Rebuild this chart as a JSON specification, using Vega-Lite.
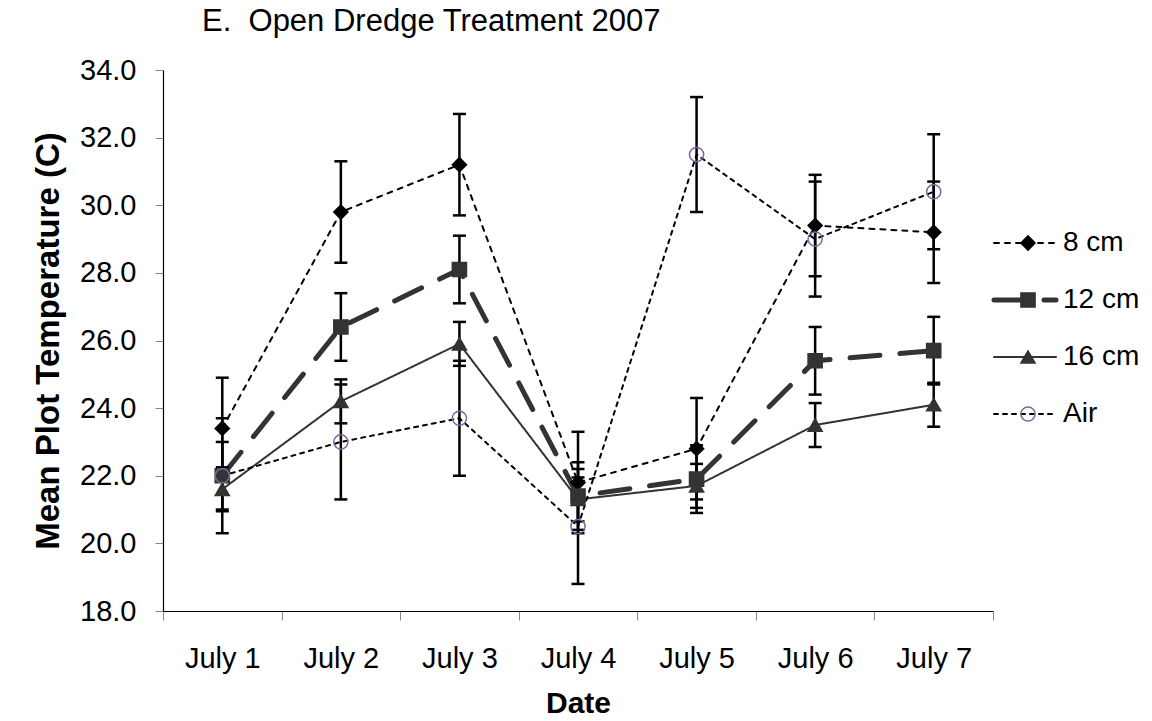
{
  "$schema": "https://vega.github.io/schema/vega-lite/v6.json",
  "width": 830,
  "height": 541,
  "autosize": {"type": "none"},
  "padding": {"left": 163, "top": 70, "right": 159, "bottom": 110},
  "background": "white",
  "config": {
    "font": "Liberation Sans",
    "view": {"stroke": null}
  },
  "title": {
    "text": "E.\u00a0 Open Dredge Treatment 2007",
    "anchor": "start",
    "frame": "group",
    "orient": "top",
    "baseline": "alphabetic",
    "offset": -6,
    "dx": 39,
    "fontSize": 31,
    "fontWeight": "normal",
    "font": "Liberation Sans",
    "color": "black"
  },
  "data": {
    "values": [
      {"date": "July 1", "series": "8 cm", "value": 23.4, "lo": 21.9, "hi": 24.9},
      {"date": "July 2", "series": "8 cm", "value": 29.8, "lo": 28.3, "hi": 31.3},
      {"date": "July 3", "series": "8 cm", "value": 31.2, "lo": 29.7, "hi": 32.7},
      {"date": "July 4", "series": "8 cm", "value": 21.8, "lo": 20.3, "hi": 23.3},
      {"date": "July 5", "series": "8 cm", "value": 22.8, "lo": 21.3, "hi": 24.3},
      {"date": "July 6", "series": "8 cm", "value": 29.4, "lo": 27.9, "hi": 30.9},
      {"date": "July 7", "series": "8 cm", "value": 29.2, "lo": 27.7, "hi": 30.7},
      {"date": "July 1", "series": "12 cm", "value": 22.0, "lo": 21.0, "hi": 23.0},
      {"date": "July 2", "series": "12 cm", "value": 26.4, "lo": 25.4, "hi": 27.4},
      {"date": "July 3", "series": "12 cm", "value": 28.1, "lo": 27.1, "hi": 29.1},
      {"date": "July 4", "series": "12 cm", "value": 21.4, "lo": 20.4, "hi": 22.4},
      {"date": "July 5", "series": "12 cm", "value": 21.9, "lo": 20.9, "hi": 22.9},
      {"date": "July 6", "series": "12 cm", "value": 25.4, "lo": 24.4, "hi": 26.4},
      {"date": "July 7", "series": "12 cm", "value": 25.7, "lo": 24.7, "hi": 26.7},
      {"date": "July 1", "series": "16 cm", "value": 21.6, "lo": 20.95, "hi": 22.25},
      {"date": "July 2", "series": "16 cm", "value": 24.2, "lo": 23.55, "hi": 24.85},
      {"date": "July 3", "series": "16 cm", "value": 25.9, "lo": 25.25, "hi": 26.55},
      {"date": "July 4", "series": "16 cm", "value": 21.3, "lo": 20.65, "hi": 21.95},
      {"date": "July 5", "series": "16 cm", "value": 21.7, "lo": 21.05, "hi": 22.35},
      {"date": "July 6", "series": "16 cm", "value": 23.5, "lo": 22.85, "hi": 24.15},
      {"date": "July 7", "series": "16 cm", "value": 24.1, "lo": 23.45, "hi": 24.75},
      {"date": "July 1", "series": "Air", "value": 22.0, "lo": 20.3, "hi": 23.7},
      {"date": "July 2", "series": "Air", "value": 23.0, "lo": 21.3, "hi": 24.7},
      {"date": "July 3", "series": "Air", "value": 23.7, "lo": 22.0, "hi": 25.4},
      {"date": "July 4", "series": "Air", "value": 20.5, "lo": 18.8, "hi": 22.2},
      {"date": "July 5", "series": "Air", "value": 31.5, "lo": 29.8, "hi": 33.2},
      {"date": "July 6", "series": "Air", "value": 29.0, "lo": 27.3, "hi": 30.7},
      {"date": "July 7", "series": "Air", "value": 30.4, "lo": 28.7, "hi": 32.1}
    ]
  },
  "encoding": {
    "x": {
      "field": "date",
      "type": "ordinal",
      "scale": {"type": "band", "paddingInner": 0, "paddingOuter": 0},
      "axis": {
        "title": "Date",
        "labelAngle": 0,
        "labelFontSize": 29,
        "labelColor": "black",
        "labelPadding": 24,
        "tickSize": 9,
        "tickBand": "extent",
        "tickColor": "#888888",
        "domainColor": "black",
        "domainWidth": 1.2,
        "titleFontSize": 30,
        "titleFontWeight": "bold",
        "titleColor": "black",
        "titlePadding": 15,
        "grid": false
      }
    }
  },
  "layer": [
    {
      "mark": {"type": "line", "strokeCap": "round", "strokeWidth": 2},
      "encoding": {
        "y": {
          "field": "value",
          "type": "quantitative",
          "title": "Mean Plot Temperature (C)",
          "scale": {"domain": [18, 34], "nice": false, "zero": false},
          "axis": {
            "values": [18, 20, 22, 24, 26, 28, 30, 32, 34],
            "format": ".1f",
            "labelFontSize": 29,
            "labelColor": "black",
            "labelPadding": 19,
            "tickSize": 8,
            "tickColor": "#888888",
            "domainColor": "black",
            "domainWidth": 1.2,
            "grid": false,
            "titleFontSize": 33,
            "titleFontWeight": "bold",
            "titleColor": "black",
            "titlePadding": 14
          }
        },
        "color": {
          "field": "series",
          "type": "nominal",
          "scale": {"domain": ["8 cm", "12 cm", "16 cm", "Air"], "range": ["black", "#333333", "#333333", "black"]}
        },
        "strokeDash": {
          "field": "series",
          "type": "nominal",
          "scale": {"domain": ["8 cm", "12 cm", "16 cm", "Air"], "range": [[5, 6], [30, 20], [1, 0], [4, 5]]},
          "legend": {
            "orient": "none",
            "legendX": 848,
            "legendY": 159,
            "title": null,
            "padding": 0,
            "symbolType": "M-3.1,0L3.1,0",
            "symbolSize": 400,
            "labelFontSize": 28,
            "labelColor": "black",
            "labelOffset": 24,
            "rowPadding": 29,
            "encode": {
              "symbols": {
                "update": {
                  "strokeWidth": {"signal": "datum.value === '12 cm' ? 5 : 2"},
                  "strokeCap": {"value": "round"},
                  "opacity": {"value": 1}
                }
              }
            }
          }
        }
      }
    },
    {
      "transform": [{"filter": "datum.series === '12 cm'"}],
      "mark": {"type": "line", "strokeCap": "round", "strokeWidth": 5, "strokeDash": [30, 20], "color": "#333333"},
      "encoding": {
        "y": {"field": "value", "type": "quantitative", "title": "Mean Plot Temperature (C)"}
      }
    },
    {
      "mark": {"type": "rule", "color": "black", "strokeWidth": 2.5},
      "encoding": {
        "y": {"field": "lo", "type": "quantitative", "title": "Mean Plot Temperature (C)"},
        "y2": {"field": "hi"}
      }
    },
    {
      "mark": {"type": "tick", "color": "black", "thickness": 2.5, "size": 13, "opacity": 1},
      "encoding": {
        "y": {"field": "lo", "type": "quantitative", "title": "Mean Plot Temperature (C)"}
      }
    },
    {
      "mark": {"type": "tick", "color": "black", "thickness": 2.5, "size": 13, "opacity": 1},
      "encoding": {
        "y": {"field": "hi", "type": "quantitative", "title": "Mean Plot Temperature (C)"}
      }
    },
    {
      "mark": {"type": "point", "size": 200, "opacity": 1, "strokeWidth": 1.5},
      "encoding": {
        "y": {"field": "value", "type": "quantitative", "title": "Mean Plot Temperature (C)"},
        "shape": {
          "field": "series",
          "type": "nominal",
          "scale": {"domain": ["8 cm", "12 cm", "16 cm", "Air", "~"], "range": ["diamond", "square", "triangle-up", "circle", "circle"]},
          "legend": {
            "orient": "none",
            "legendX": 851,
            "legendY": 159,
            "title": null,
            "padding": 0,
            "values": ["8 cm", "12 cm", "16 cm", "Air"],
            "symbolSize": 200,
            "symbolFillColor": "white",
            "symbolStrokeColor": "black",
            "symbolStrokeWidth": 1.5,
            "labelFontSize": 28,
            "labelExpr": "''",
            "rowPadding": 29
          }
        },
        "fill": {
          "field": "series",
          "type": "nominal",
          "scale": {"domain": ["8 cm", "12 cm", "16 cm", "Air", "~"], "range": ["black", "#333333", "#333333", "transparent", "transparent"]},
          "legend": {
            "orient": "none",
            "legendX": 851,
            "legendY": 159,
            "title": null,
            "padding": 0,
            "values": ["8 cm", "12 cm", "16 cm", "Air"],
            "symbolSize": 200,
            "symbolFillColor": "white",
            "symbolStrokeColor": "black",
            "symbolStrokeWidth": 1.5,
            "labelFontSize": 28,
            "labelExpr": "''",
            "rowPadding": 29
          }
        },
        "stroke": {
          "field": "series",
          "type": "nominal",
          "scale": {"domain": ["8 cm", "12 cm", "16 cm", "Air", "~"], "range": ["black", "#333333", "#333333", "#8064A2", "black"]},
          "legend": {
            "orient": "none",
            "legendX": 851,
            "legendY": 159,
            "title": null,
            "padding": 0,
            "values": ["8 cm", "12 cm", "16 cm", "Air"],
            "symbolSize": 200,
            "symbolFillColor": "white",
            "symbolStrokeColor": "black",
            "symbolStrokeWidth": 1.5,
            "labelFontSize": 28,
            "labelExpr": "''",
            "rowPadding": 29
          }
        }
      }
    }
  ]
}
